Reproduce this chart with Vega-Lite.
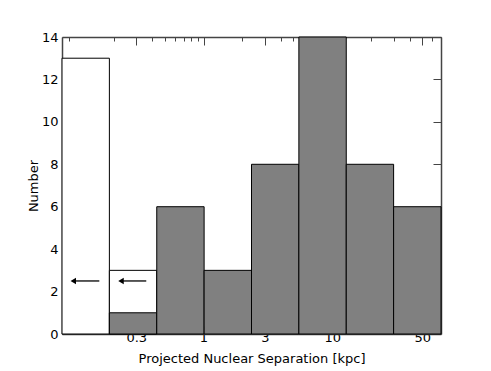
{
  "$schema": "https://vega.github.io/schema/vega-lite/v6.json",
  "width": 379,
  "height": 297,
  "autosize": {"type": "none"},
  "padding": {"left": 62, "top": 37, "right": 50, "bottom": 37},
  "background": "white",
  "config": {
    "view": {"stroke": null},
    "font": "DejaVu Sans",
    "axis": {
      "grid": false,
      "labelFont": "DejaVu Sans",
      "labelFontSize": 13,
      "labelColor": "#000000",
      "titleFont": "DejaVu Sans",
      "titleFontSize": 13,
      "titleFontWeight": "normal",
      "titleColor": "#000000",
      "domainColor": "#444444",
      "domainWidth": 1.5,
      "tickColor": "#444444",
      "tickWidth": 1
    }
  },
  "datasets": {
    "white": [
      {"lo": 0.0795, "hi": 0.1856, "count": 13},
      {"lo": 0.1856, "hi": 0.4332, "count": 3}
    ],
    "gray": [
      {"lo": 0.1856, "hi": 0.4332, "count": 1},
      {"lo": 0.4332, "hi": 1.011, "count": 6},
      {"lo": 1.011, "hi": 2.36, "count": 3},
      {"lo": 2.36, "hi": 5.508, "count": 8},
      {"lo": 5.508, "hi": 12.86, "count": 14},
      {"lo": 12.86, "hi": 30.01, "count": 8},
      {"lo": 30.01, "hi": 70.05, "count": 6}
    ],
    "arrows": [
      {"tail": 0.155, "tip": 0.0973, "y": 2.5},
      {"tail": 0.359, "tip": 0.2284, "y": 2.5}
    ]
  },
  "layer": [
    {
      "data": {"name": "white"},
      "mark": {"type": "bar", "fill": "white", "stroke": "black", "strokeWidth": 1},
      "encoding": {
        "x": {
          "field": "lo", "type": "quantitative",
          "scale": {"type": "log", "domain": [0.0795, 70.05], "nice": false, "zero": false},
          "axis": {
            "orient": "bottom",
            "title": "Projected Nuclear Separation [kpc]",
            "titlePadding": 4,
            "values": [0.09, 0.2, 0.3, 0.4, 0.5, 0.6, 0.7, 0.8, 0.9, 1, 2, 3, 4, 5, 6, 7, 8, 9, 10, 20, 30, 40, 50, 60, 70],
            "labelExpr": "indexof([0.3, 1, 3, 10, 50], datum.value) >= 0 ? datum.label : ''",
            "format": "~g",
            "tickSize": {"condition": {"test": "indexof([0.3, 1, 3, 10, 50], datum.value) >= 0", "value": -8}, "value": -4},
            "labelPadding": 5,
            "labelFlush": false,
            "labelOverlap": false
          }
        },
        "x2": {"field": "hi"},
        "y": {
          "field": "count", "type": "quantitative",
          "scale": {"domain": [0, 14], "nice": false},
          "axis": {
            "orient": "left",
            "title": "Number",
            "titlePadding": 1,
            "values": [0, 2, 4, 6, 8, 10, 12, 14],
            "tickSize": -8,
            "labelPadding": 12,
            "labelColor": "#000000"
          }
        },
        "y2": {"datum": 0}
      }
    },
    {
      "data": {"name": "gray"},
      "mark": {"type": "bar", "fill": "#808080", "stroke": "black", "strokeWidth": 1},
      "encoding": {
        "x": {
          "field": "lo", "type": "quantitative",
          "axis": {
            "orient": "top",
            "title": null,
            "labels": false,
            "values": [0.09, 0.2, 0.3, 0.4, 0.5, 0.6, 0.7, 0.8, 0.9, 1, 2, 3, 4, 5, 6, 7, 8, 9, 10, 20, 30, 40, 50, 60, 70],
            "tickSize": {"condition": {"test": "indexof([0.3, 1, 3, 10, 50], datum.value) >= 0", "value": -8}, "value": -4}
          }
        },
        "x2": {"field": "hi"},
        "y": {
          "field": "count", "type": "quantitative",
          "axis": {
            "orient": "right",
            "title": null,
            "labels": false,
            "values": [0, 2, 4, 6, 8, 10, 12, 14],
            "tickSize": -8
          }
        },
        "y2": {"datum": 0}
      }
    },
    {
      "data": {"name": "arrows"},
      "mark": {"type": "rule", "color": "black", "strokeWidth": 1.3},
      "encoding": {
        "x": {"field": "tail", "type": "quantitative", "axis": null},
        "x2": {"field": "tip"},
        "y": {"field": "y", "type": "quantitative", "axis": null}
      }
    },
    {
      "data": {"name": "arrows"},
      "mark": {"type": "point", "shape": "triangle-left", "filled": true, "color": "black", "size": 40, "opacity": 1},
      "encoding": {
        "x": {"field": "tip", "type": "quantitative", "axis": null},
        "y": {"field": "y", "type": "quantitative", "axis": null}
      }
    }
  ],
  "resolve": {"axis": {"x": "independent", "y": "independent"}}
}
